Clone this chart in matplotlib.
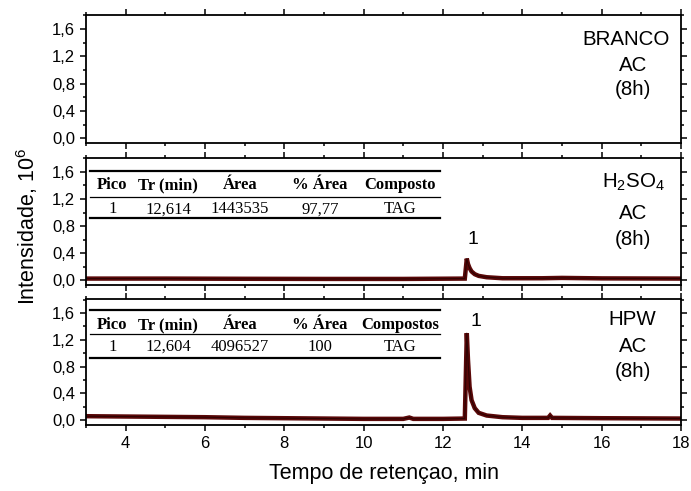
import numpy as np
import matplotlib
matplotlib.use("Agg")
import matplotlib.pyplot as plt
from matplotlib.lines import Line2D
from matplotlib.ticker import MultipleLocator

plt.rcParams['font.family'] = ['Liberation Sans', 'DejaVu Sans']
plt.rcParams['mathtext.fontset'] = 'custom'
plt.rcParams['mathtext.rm'] = 'Liberation Sans'
plt.rcParams['mathtext.it'] = 'Liberation Sans'

# chromatogram traces (time in min, intensity in 10^6)
t_h2so4 = [3.0, 5.0, 7.0, 9.0, 11.0, 12.55, 12.6, 12.63, 12.67, 12.72, 12.8, 12.9, 13.1, 13.5, 14.5, 15.0, 16.0, 18.0]
y_h2so4 = [0.025, 0.025, 0.022, 0.02, 0.02, 0.025, 0.32, 0.24, 0.18, 0.13, 0.09, 0.065, 0.045, 0.03, 0.03, 0.035, 0.028, 0.025]

t_hpw = [3.0, 4.0, 5.0, 6.0, 7.0, 8.0, 9.0, 10.0, 11.0, 11.15, 11.25, 12.0, 12.55, 12.6, 12.63, 12.67, 12.72,
         12.8, 12.9, 13.1, 13.5, 14.0, 14.65, 14.7, 14.75, 16.0, 18.0]
y_hpw = [0.06, 0.055, 0.05, 0.045, 0.035, 0.03, 0.025, 0.02, 0.02, 0.04, 0.02, 0.02, 0.025, 1.30, 0.9, 0.5, 0.3,
         0.18, 0.11, 0.07, 0.045, 0.035, 0.035, 0.07, 0.035, 0.03, 0.025]

panel_labels = [["BRANCO", "AC", "(8h)"],
                [r"H$_2$SO$_4$", "AC", "(8h)"],
                ["HPW", "AC", "(8h)"]]

table_cols = ["Pico", "Tr (min)", "Área", "% Área"]
table_h2so4 = ["1", "12,614", "1443535", "97,77", "TAG"]
table_hpw = ["1", "12,604", "4096527", "100", "TAG"]

line_col = '#5a0808'

fig = plt.figure(figsize=(6.91, 4.91), dpi=100)
left, width = 0.1245, 0.861
ax1 = fig.add_axes([left, 0.7094, width, 0.2601])
ax2 = fig.add_axes([left, 0.4202, width, 0.2580])
ax3 = fig.add_axes([left, 0.1353, width, 0.2552])
axes = [ax1, ax2, ax3]

for ax in axes:
    ax.set_xlim(3, 18)
    ax.set_ylim(-0.065, 1.805)
    ax.xaxis.set_major_locator(MultipleLocator(2))
    ax.xaxis.set_minor_locator(MultipleLocator(1))
    ax.yaxis.set_major_locator(MultipleLocator(0.4))
    ax.yaxis.set_minor_locator(MultipleLocator(0.2))
    ax.tick_params(which='both', direction='out', top=True, right=True, width=1.1)
    ax.tick_params(which='major', length=4.5, labelsize=12)
    ax.tick_params(which='minor', length=2.5)
    ax.yaxis.set_major_formatter(plt.FuncFormatter(lambda v, p: f"{v:.1f}".replace('.', ',')))
    for s in ax.spines.values():
        s.set_linewidth(1.3)
for ax in (ax1, ax2):
    ax.tick_params(labelbottom=False)

ax2.plot(t_h2so4, y_h2so4, color=line_col, lw=3.2, solid_joinstyle='miter')
ax2.plot(t_h2so4, y_h2so4, color='#1a0000', lw=0.8, alpha=0.7)
ax3.plot(t_hpw, y_hpw, color=line_col, lw=3.2, solid_joinstyle='miter')
ax3.plot(t_hpw, y_hpw, color='#1a0000', lw=0.8, alpha=0.7)

ax2.text(12.75, 0.60, "1", fontsize=14, ha='center', va='center')
ax3.text(12.82, 1.47, "1", fontsize=14, ha='center', va='center')

label_x = [[0.908, 0.92, 0.92], [0.92, 0.92, 0.92], [0.918, 0.92, 0.92]]
label_y = [[0.810, 0.608, 0.418], [0.81, 0.56, 0.36], [0.835, 0.622, 0.422]]
for ax, labs, xs, ys in zip(axes, panel_labels, label_x, label_y):
    for lab, xx, yy in zip(labs, xs, ys):
        ax.text(xx, yy, lab, transform=ax.transAxes, fontsize=14.8, ha='center', va='center')

col_x = [0.044, 0.138, 0.259, 0.393, 0.528]


def draw_table(ax, last_col, row, y_lines, y_head, y_row):
    for yy, lw in zip(y_lines, [1.6, 0.9, 1.6]):
        ax.add_line(Line2D([0.007, 0.595], [yy, yy], transform=ax.transAxes, color='black', lw=lw))
    for x, h in zip(col_x, table_cols + [last_col]):
        ax.text(x, y_head, h, transform=ax.transAxes, fontsize=12, fontweight='bold',
                family='Liberation Serif', ha='center', va='center')
    for x, v in zip(col_x, row):
        ax.text(x, y_row, v, transform=ax.transAxes, fontsize=12,
                family='Liberation Serif', ha='center', va='center')


draw_table(ax2, "Composto", table_h2so4, [0.897, 0.695, 0.524], 0.787, 0.595)
draw_table(ax3, "Compostos", table_hpw, [0.915, 0.723, 0.532], 0.795, 0.619)

ax3.set_xlabel("Tempo de retençao, min", fontsize=15.5, labelpad=9)
fig.text(0.039, 0.538, r"Intensidade, 10$^6$", rotation=90, fontsize=15.5, ha='center', va='center')

fig.savefig("out.png", dpi=100)
